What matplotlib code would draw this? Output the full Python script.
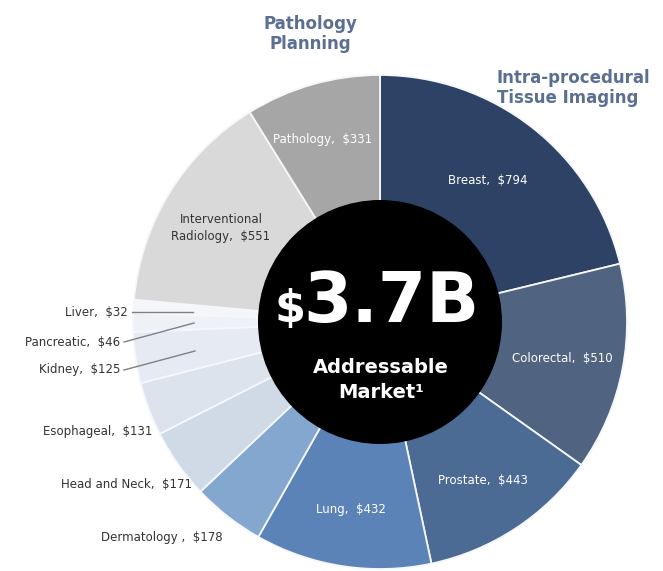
import matplotlib
matplotlib.use("Agg")
import matplotlib.pyplot as plt
from matplotlib.patches import Circle

# ---- data (clockwise from 12 o'clock) ----
categories = ["Breast", "Colorectal", "Prostate", "Lung", "Dermatology ",
              "Head and Neck", "Esophageal", "Kidney", "Pancreatic", "Liver",
              "Interventional\nRadiology", "Pathology"]
values = [794, 510, 443, 432, 178, 171, 131, 125, 46, 32, 551, 331]
colors = ["#2d4264", "#506482", "#4b6a94", "#5b83b8", "#84a7cf",
          "#d0d9e6", "#dce3ed", "#e6ebf3", "#eef1f6", "#f5f6f9",
          "#d9d9d9", "#a6a6a6"]
total_label = "3.7B"
headers = ["Pathology\nPlanning", "Intra-procedural\nTissue Imaging"]

# ---- layout (pixel coordinates, y from top) ----
W, H = 663, 571
# label anchor: (x, y, ha, color)
label_layout = [
    (488, 181, "center", "white"),
    (562, 358, "center", "white"),
    (483, 481, "center", "white"),
    (351, 510, "center", "white"),
    (223, 538, "right", "#333333"),
    (192, 485, "right", "#333333"),
    (152, 432, "right", "#333333"),
    (120, 370, "right", "#333333"),
    (120, 343, "right", "#333333"),
    (128, 313, "right", "#333333"),
    (221, 228, "center", "#333333"),
    (323, 140, "center", "white"),
]
leaders = {9: ((132, 312), (193, 312)),
           8: ((124, 342), (194, 323)),
           7: ((124, 370), (195, 351))}

fig = plt.figure(figsize=(W / 100, H / 100), dpi=100)
ax = fig.add_axes([0, 0, 1, 1])


def Y(y):
    return H - y


cx, cy, R = 380, Y(322), 247
ax.pie(values, colors=colors, startangle=90, counterclock=False,
       center=(cx, cy), radius=R, frame=True,
       wedgeprops=dict(edgecolor="#f4f7fb", linewidth=1.3))
ax.set_xlim(0, W)
ax.set_ylim(0, H)
ax.set_aspect("equal")
ax.axis("off")

ax.add_patch(Circle((cx, cy), 122, facecolor="black", edgecolor="none", zorder=5))

for i, (name, val) in enumerate(zip(categories, values)):
    x, y, ha, col = label_layout[i]
    ax.text(x, Y(y), f"{name},  ${val}", ha=ha, va="center", color=col,
            fontsize=8.5, family="DejaVu Sans", zorder=6, linespacing=1.35)
    if i in leaders:
        (x0, y0), (x1, y1) = leaders[i]
        ax.plot([x0, x1], [Y(y0), Y(y1)], color="#808080", lw=1, zorder=6)

# center text
ax.text(306, Y(322), "$", ha="right", va="baseline", color="white",
        fontsize=32, fontweight="bold", zorder=7)
ax.text(303, Y(322), total_label, ha="left", va="baseline", color="white",
        fontsize=50, fontweight="bold", zorder=7)
ax.text(381, Y(373), "Addressable", ha="center", va="baseline", color="white",
        fontsize=14, fontweight="bold", zorder=7)
ax.text(381, Y(398), "Market\u00b9", ha="center", va="baseline", color="white",
        fontsize=14, fontweight="bold", zorder=7)

# group headers
hdr_col = "#5a6f91"
ax.text(310, Y(34), headers[0], ha="center", va="center", color=hdr_col,
        fontsize=12, fontweight="bold", linespacing=1.2)
ax.text(497, Y(88), headers[1], ha="left", va="center", color=hdr_col,
        fontsize=12, fontweight="bold", linespacing=1.2)

fig.savefig("out.png", dpi=100)
